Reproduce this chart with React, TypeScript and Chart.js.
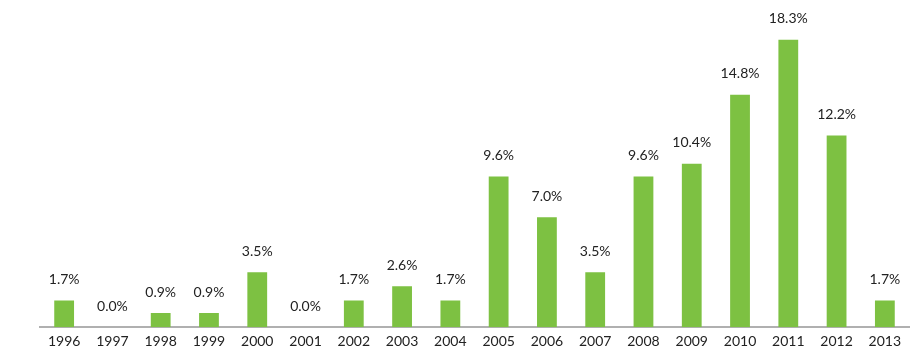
import React, { useEffect, useRef } from "react";
import { Chart, registerables } from "chart.js";

Chart.register(...registerables);

const years = ["1996","1997","1998","1999","2000","2001","2002","2003","2004","2005","2006","2007","2008","2009","2010","2011","2012","2013"];
const values = [1.7, 0.0, 0.9, 0.9, 3.5, 0.0, 1.7, 2.6, 1.7, 9.6, 7.0, 3.5, 9.6, 10.4, 14.8, 18.3, 12.2, 1.7];
const valueLabels = ["1.7%","0.0%","0.9%","0.9%","3.5%","0.0%","1.7%","2.6%","1.7%","9.6%","7.0%","3.5%","9.6%","10.4%","14.8%","18.3%","12.2%","1.7%"];

const FONT = "'Lato', 'DejaVu Sans', sans-serif";

const labelPlugin = {
  id: "barLabels",
  afterDatasetsDraw(chart: any) {
    const ctx = chart.ctx;
    const meta = chart.getDatasetMeta(0);
    ctx.save();
    ctx.font = `14px ${FONT}`;
    ctx.fillStyle = "#222222";
    ctx.textAlign = "center";
    ctx.textBaseline = "middle";
    meta.data.forEach((bar: any, i: number) => {
      ctx.fillText(valueLabels[i], bar.x, bar.y - 21);
    });
    ctx.restore();
  },
};

export default function App() {
  const ref = useRef<HTMLCanvasElement | null>(null);
  useEffect(() => {
    document.body.style.margin = "0";
    const chart = new Chart(ref.current!, {
      type: "bar",
      data: {
        labels: years,
        datasets: [
          {
            data: values,
            backgroundColor: "#7dc142",
            barPercentage: 0.82,
            categoryPercentage: 0.5,
          },
        ],
      },
      options: {
        animation: false,
        responsive: false,
        maintainAspectRatio: false,
        layout: { padding: { left: 40, right: 13, top: 13, bottom: 7 } },
        plugins: { legend: { display: false }, tooltip: { enabled: false } },
        scales: {
          x: {
            grid: { display: false },
            border: { display: true, color: "#b0b0b0", width: 2 },
            ticks: { color: "#222222", font: { family: FONT, size: 14 }, padding: -2, maxRotation: 0, autoSkip: false },
          },
          y: {
            display: false,
            min: 0,
            max: 20,
          },
        },
      },
      plugins: [labelPlugin],
    });
    return () => chart.destroy();
  }, []);
  return (
    <div style={{ position: "absolute", left: 0, top: 0, width: 922, height: 355 }}>
      <canvas ref={ref} width={922} height={355} style={{ display: "block" }} />
    </div>
  );
}
